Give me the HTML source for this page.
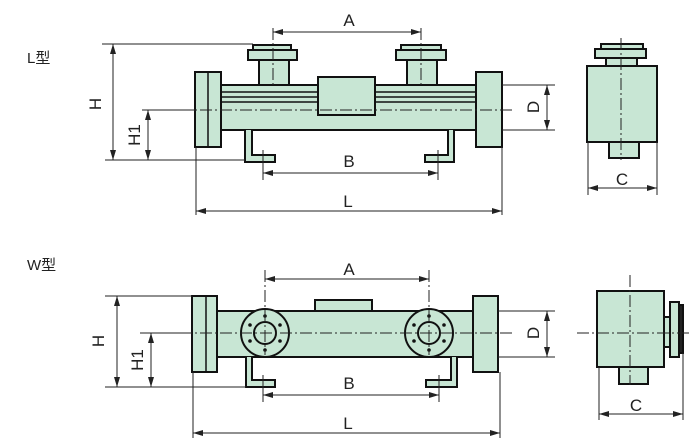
<!DOCTYPE html>
<html><head><meta charset="utf-8"><style>
html,body{margin:0;padding:0;background:#fff;}
svg{display:block;}
text{font-family:"Liberation Sans","Noto Sans CJK SC",sans-serif;fill:#222;}
</style></head><body>
<svg width="700" height="447" viewBox="0 0 700 447" xmlns="http://www.w3.org/2000/svg">
<defs>
<marker id="ar" viewBox="0 0 10 6" refX="10" refY="3" markerWidth="10" markerHeight="6" orient="auto-start-reverse" markerUnits="userSpaceOnUse"><path d="M0,0 L10,3 L0,6 z" fill="#222"/></marker>
</defs>
<g fill="#c8e6d4" stroke="#111" stroke-width="2">
<!-- L type -->
<rect x="253" y="45" width="38" height="5"/>
<rect x="248" y="50" width="49" height="10"/>
<rect x="259" y="60" width="30" height="25"/>
<rect x="401" y="45" width="40" height="5"/>
<rect x="396" y="50" width="50" height="10"/>
<rect x="407" y="60" width="30" height="25"/>
<rect x="221" y="85" width="255" height="45"/>
<rect x="195" y="72" width="26" height="75"/>
<rect x="476" y="72" width="26" height="75"/>
<rect x="318" y="77" width="57" height="38"/>
<path d="M245,130 V162 H275 V155 H252 V130" />
<path d="M454,130 V162 H425 V155 H448 V130" />
<!-- L end -->
<rect x="601" y="44" width="42" height="5"/>
<rect x="595" y="49" width="51" height="9"/>
<rect x="606" y="58" width="31" height="8"/>
<rect x="587" y="66" width="70" height="76"/>
<rect x="609" y="142" width="30" height="16"/>
<!-- W type -->
<rect x="315" y="300" width="57" height="11"/>
<rect x="217" y="311" width="256" height="46"/>
<rect x="192" y="296" width="25" height="76"/>
<rect x="473" y="296" width="25" height="76"/>
<path d="M246,357 V387 H275 V380 H252 V357"/>
<path d="M457,357 V387 H426 V380 H451 V357"/>
<circle cx="265" cy="333" r="24"/>
<circle cx="265" cy="333" r="11"/>
<circle cx="429" cy="333" r="24"/>
<circle cx="429" cy="333" r="11"/>
<!-- W end -->
<rect x="597" y="291" width="67" height="76"/>
<rect x="619" y="367" width="29" height="17"/>
<rect x="664" y="317" width="6" height="30"/>
<rect x="670" y="302" width="9" height="55"/>
<rect x="679" y="305" width="4" height="48" fill="#222"/>
</g>
<g stroke="#111" stroke-width="1.5" fill="none">
<line x1="208" y1="72" x2="208" y2="147"/>
<line x1="221" y1="92" x2="318" y2="92"/><line x1="375" y1="92" x2="476" y2="92"/>
<line x1="221" y1="97" x2="318" y2="97"/><line x1="375" y1="97" x2="476" y2="97"/>
<line x1="221" y1="102" x2="318" y2="102"/><line x1="375" y1="102" x2="476" y2="102"/>
<line x1="206" y1="296" x2="206" y2="372"/>
</g>
<g fill="#111">
<circle cx="265" cy="316" r="1.8"/><circle cx="265" cy="350" r="1.8"/>
<circle cx="250" cy="325" r="1.8"/><circle cx="280" cy="325" r="1.8"/>
<circle cx="250" cy="341" r="1.8"/><circle cx="280" cy="341" r="1.8"/>
<circle cx="429" cy="316" r="1.8"/><circle cx="429" cy="350" r="1.8"/>
<circle cx="414" cy="325" r="1.8"/><circle cx="444" cy="325" r="1.8"/>
<circle cx="414" cy="341" r="1.8"/><circle cx="444" cy="341" r="1.8"/>
</g>
<!-- center lines -->
<g stroke="#222" stroke-width="1" fill="none" stroke-dasharray="12,3,2,3">
<line x1="180" y1="110" x2="515" y2="110"/>
<line x1="273" y1="28" x2="273" y2="85"/>
<line x1="421" y1="28" x2="421" y2="85"/>
<line x1="621" y1="38" x2="621" y2="160"/>
<line x1="180" y1="333" x2="515" y2="333"/>
<line x1="265" y1="270" x2="265" y2="355"/>
<line x1="429" y1="270" x2="429" y2="355"/>
<line x1="630" y1="275" x2="630" y2="385"/>
<line x1="577" y1="333" x2="690" y2="333"/>
</g>
<!-- dimension lines -->
<g stroke="#222" stroke-width="1" fill="none">
<line x1="102" y1="44" x2="253" y2="44"/>
<line x1="105" y1="160" x2="245" y2="160"/>
<line x1="142" y1="110" x2="195" y2="110"/>
<line x1="113" y1="44" x2="113" y2="160" marker-start="url(#ar)" marker-end="url(#ar)"/>
<line x1="148" y1="110" x2="148" y2="160" marker-start="url(#ar)" marker-end="url(#ar)"/>
<line x1="273" y1="32" x2="421" y2="32" marker-start="url(#ar)" marker-end="url(#ar)"/>
<line x1="263" y1="150" x2="263" y2="180"/><line x1="438" y1="150" x2="438" y2="180"/>
<line x1="263" y1="173" x2="438" y2="173" marker-start="url(#ar)" marker-end="url(#ar)"/>
<line x1="196" y1="147" x2="196" y2="215"/><line x1="502" y1="147" x2="502" y2="215"/>
<line x1="196" y1="211" x2="502" y2="211" marker-start="url(#ar)" marker-end="url(#ar)"/>
<line x1="502" y1="85" x2="555" y2="85"/><line x1="502" y1="130" x2="555" y2="130"/>
<line x1="547" y1="85" x2="547" y2="130" marker-start="url(#ar)" marker-end="url(#ar)"/>
<line x1="588" y1="142" x2="588" y2="195"/><line x1="657" y1="142" x2="657" y2="195"/>
<line x1="588" y1="188" x2="657" y2="188" marker-start="url(#ar)" marker-end="url(#ar)"/>
<!-- W -->
<line x1="105" y1="296" x2="192" y2="296"/>
<line x1="105" y1="387" x2="246" y2="387"/>
<line x1="140" y1="333" x2="180" y2="333"/>
<line x1="117" y1="296" x2="117" y2="387" marker-start="url(#ar)" marker-end="url(#ar)"/>
<line x1="151" y1="333" x2="151" y2="387" marker-start="url(#ar)" marker-end="url(#ar)"/>
<line x1="265" y1="279" x2="429" y2="279" marker-start="url(#ar)" marker-end="url(#ar)"/>
<line x1="263" y1="375" x2="263" y2="402"/><line x1="439" y1="375" x2="439" y2="402"/>
<line x1="263" y1="395" x2="439" y2="395" marker-start="url(#ar)" marker-end="url(#ar)"/>
<line x1="193" y1="372" x2="193" y2="438"/><line x1="500" y1="372" x2="500" y2="438"/>
<line x1="193" y1="433" x2="500" y2="433" marker-start="url(#ar)" marker-end="url(#ar)"/>
<line x1="498" y1="311" x2="555" y2="311"/><line x1="498" y1="357" x2="555" y2="357"/>
<line x1="547" y1="311" x2="547" y2="357" marker-start="url(#ar)" marker-end="url(#ar)"/>
<line x1="599" y1="367" x2="599" y2="420"/><line x1="683" y1="353" x2="683" y2="420"/>
<line x1="599" y1="414" x2="683" y2="414" marker-start="url(#ar)" marker-end="url(#ar)"/>
</g>
<g font-size="17" text-anchor="middle">
<text x="349" y="26">A</text>
<text x="349" y="167">B</text>
<text x="348" y="207">L</text>
<text x="622" y="185">C</text>
<text x="349" y="275">A</text>
<text x="349" y="389">B</text>
<text x="348" y="429">L</text>
<text x="636" y="411">C</text>
<text transform="translate(101,104) rotate(-90)">H</text>
<text transform="translate(140,135) rotate(-90)">H1</text>
<text transform="translate(539,107) rotate(-90)">D</text>
<text transform="translate(104,341) rotate(-90)">H</text>
<text transform="translate(143,360) rotate(-90)">H1</text>
<text transform="translate(539,333) rotate(-90)">D</text>
</g>
<text x="27" y="63" font-size="15">L型</text>
<text x="27" y="270" font-size="15">W型</text>
</svg>
</body></html>
